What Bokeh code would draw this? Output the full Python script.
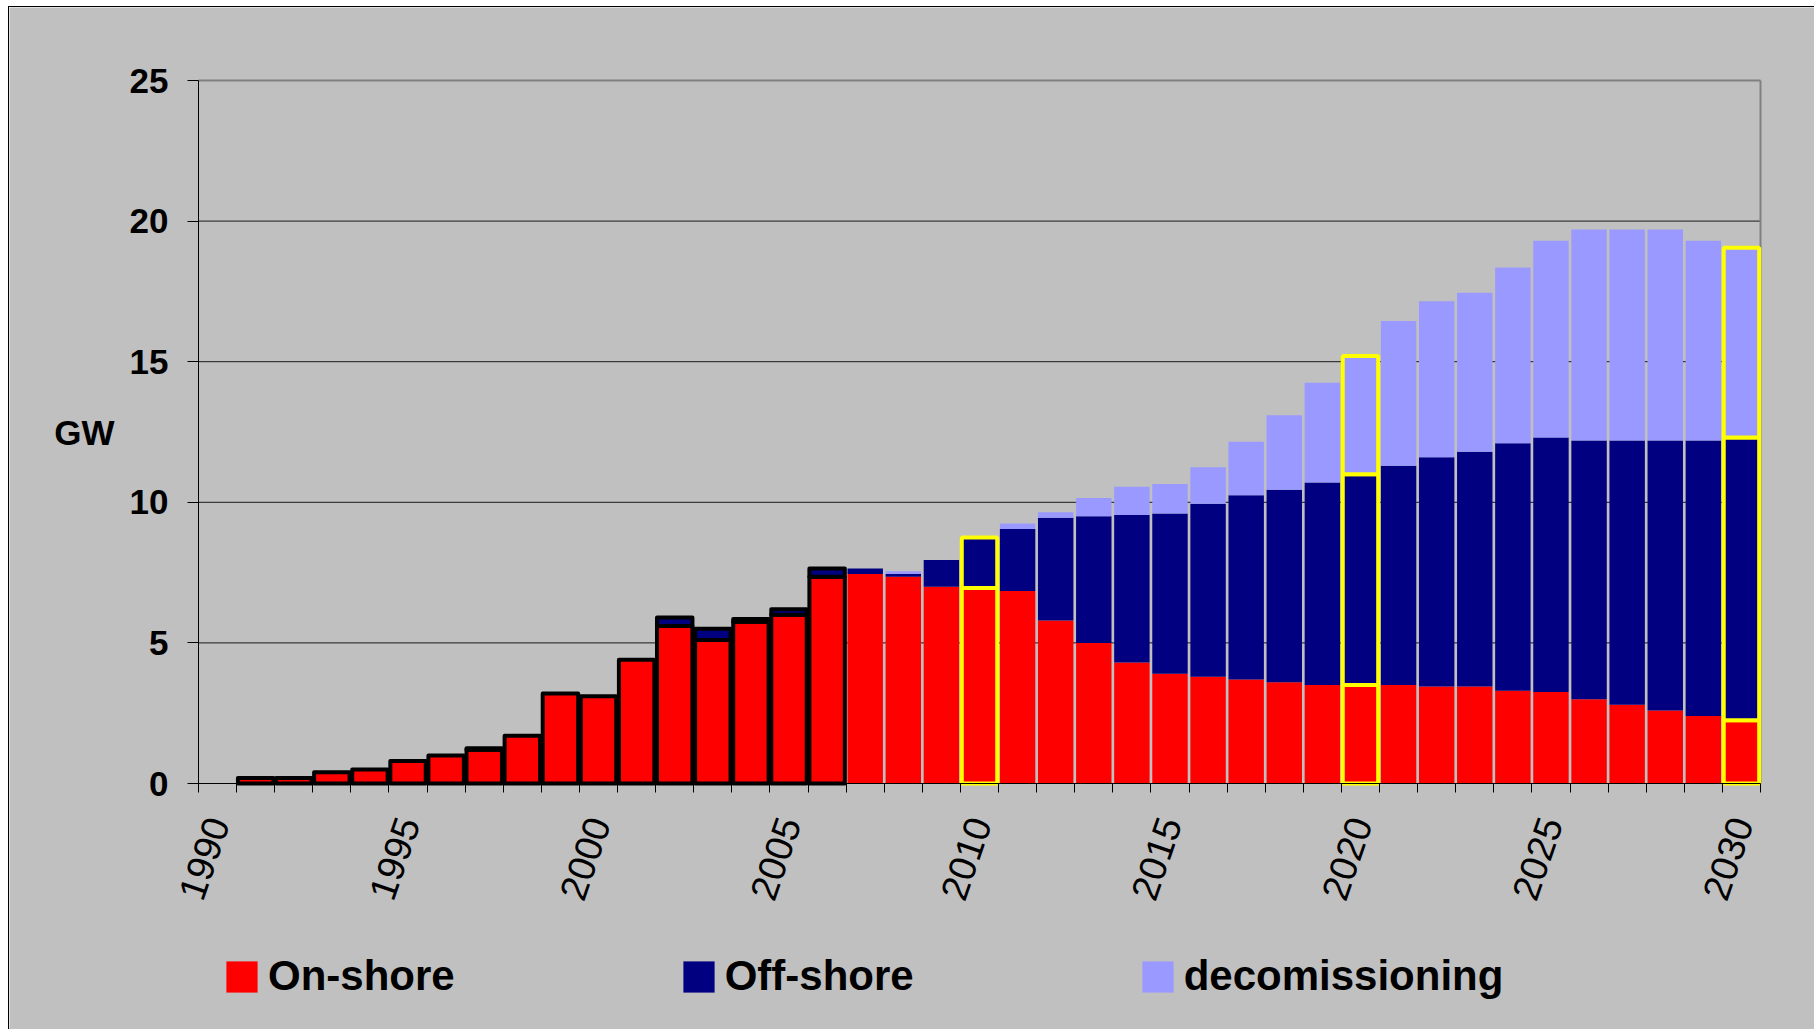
import math
from bokeh.plotting import figure
from bokeh.models import (Range1d, FixedTicker, Legend, LegendItem, ColumnDataSource, Label)
from bokeh.embed import file_html
from bokeh.resources import INLINE

# ---------------- data (GW) ----------------
years = list(range(1990, 2031))
onshore = [0, 0.2, 0.2, 0.4, 0.5, 0.8, 1.0, 1.2, 1.7, 3.2,
           3.1, 4.4, 5.6, 5.1, 5.75, 6.0, 7.35, 7.45, 7.35, 7.0,
           6.95, 6.85, 5.8, 5.0, 4.3, 3.9, 3.8, 3.7, 3.6, 3.5,
           3.5, 3.5, 3.45, 3.45, 3.3, 3.25, 3.0, 2.8, 2.6, 2.4,
           2.25]
offshore = [0, 0, 0, 0, 0, 0, 0, 0.05, 0, 0,
            0, 0, 0.3, 0.4, 0.1, 0.2, 0.3, 0.2, 0.1, 0.95,
            1.8, 2.2, 3.65, 4.5, 5.25, 5.7, 6.15, 6.55, 6.85, 7.2,
            7.5, 7.8, 8.15, 8.35, 8.8, 9.05, 9.2, 9.4, 9.6, 9.8,
            10.05]
decommissioning = [0, 0, 0, 0, 0, 0, 0, 0, 0, 0,
                   0, 0, 0, 0, 0, 0, 0, 0, 0.1, 0,
                   0, 0.2, 0.2, 0.65, 1.0, 1.05, 1.3, 1.9, 2.65, 3.55,
                   4.2, 5.15, 5.55, 5.65, 6.25, 7.0, 7.5, 7.5, 7.5, 7.1,
                   6.75]
series_names = ["On-shore", "Off-shore", "decomissioning"]
historical_years = list(range(1991, 2007))
highlight_years = [2010, 2020, 2030]
x_tick_years = [1990, 1995, 2000, 2005, 2010, 2015, 2020, 2025, 2030]
y_ticks = [0, 5, 10, 15, 20, 25]
y_label = "GW"

# ---------------- layout / style ----------------
FONT = "Liberation Sans"
BG = "#C0C0C0"
COLORS = ["#FF0000", "#000080", "#9999FF"]
BAR_W = 0.93
W, H = 1806, 1023
# pixel box of the value area inside the canvas
PX_LEFT, PX_RIGHT, PX_TOP, PX_BOTTOM = 189, 1751, 73, 776
Y0, Y1 = y_ticks[0], y_ticks[-1]
X0, X1 = years[0] - 0.5, years[-1] + 0.5
sx = (PX_RIGHT - PX_LEFT) / (X1 - X0)        # px per category
sy = (PX_BOTTOM - PX_TOP) / (Y1 - Y0)        # px per GW
x_start, x_end = X0 - PX_LEFT / sx, X1 + (W - PX_RIGHT) / sx
y_start, y_end = Y0 - (H - PX_BOTTOM) / sy, Y1 + PX_TOP / sy

p = figure(width=W, height=H, output_backend="svg", toolbar_location=None,
           x_range=Range1d(x_start, x_end), y_range=Range1d(y_start, y_end),
           min_border_left=0, min_border_right=0, min_border_top=0, min_border_bottom=0,
           background_fill_color=BG, border_fill_color=BG)
p.styles = {"margin-left": "8px", "margin-top": "6px",
            "border-top": "1px solid black", "border-left": "1px solid black"}
p.outline_line_color = None
p.xgrid.visible = False
p.ygrid.visible = False

# horizontal gridlines limited to the value area (drawn beneath the bars)
grid_vals = y_ticks[1:-1]
p.segment(x0=[X0] * len(grid_vals), y0=grid_vals, x1=[X1] * len(grid_vals), y1=grid_vals,
          line_color="#1a1a1a", line_width=1)

# gray plot-area border (top and right)
p.segment(x0=[X0, X1], y0=[Y1, Y0], x1=[X1, X1], y1=[Y1, Y1],
          line_color="#808080", line_width=2)

# stacked bars, split into groups for outline styling
plain_renderers = []
yellow_jobs = []
bottom = [0.0] * len(years)
for name, vals, col in zip(series_names, [onshore, offshore, decommissioning], COLORS):
    groups = {g: {"x": [], "b": [], "t": []} for g in ("plain", "hist", "yel")}
    for i, yr in enumerate(years):
        v = vals[i]
        if v <= 0:
            continue
        g = "hist" if yr in historical_years else ("yel" if yr in highlight_years else "plain")
        groups[g]["x"].append(yr)
        groups[g]["b"].append(bottom[i])
        groups[g]["t"].append(bottom[i] + v)
    r = p.vbar(x="x", bottom="b", top="t", width=BAR_W, source=ColumnDataSource(groups["plain"]),
               fill_color=col, line_color=None)
    plain_renderers.append(r)
    p.vbar(x="x", bottom="b", top="t", width=BAR_W, source=ColumnDataSource(groups["hist"]),
           fill_color=col, line_color="black", line_width=4, line_join="round")
    yellow_jobs.append((groups["yel"], col))
    bottom = [b + v for b, v in zip(bottom, vals)]

for g, col in yellow_jobs:
    p.vbar(x="x", bottom="b", top="t", width=BAR_W, source=ColumnDataSource(g),
           fill_color=col, line_color="#FFFF00", line_width=4)

# x axis at value 0: labels every 5 years, tick marks between categories
p.xaxis.fixed_location = Y0
p.xaxis.bounds = (X0, X1)
p.xaxis.ticker = FixedTicker(ticks=x_tick_years,
                             minor_ticks=[yr - 0.5 for yr in years] + [years[-1] + 0.5])
p.xaxis.major_tick_line_color = None
p.xaxis.major_tick_out = 0
p.xaxis.major_tick_in = 0
p.xaxis.minor_tick_line_color = "black"
p.xaxis.minor_tick_out = 9
p.xaxis.minor_tick_in = 0
p.xaxis.major_label_orientation = math.radians(71)
p.xaxis.major_label_standoff = 26
p.xaxis.major_label_text_font = FONT
p.xaxis.major_label_text_font_style = "normal"
p.xaxis.major_label_text_font_size = "38px"
p.xaxis.major_label_text_color = "black"
p.xaxis.axis_line_color = "black"

# y axis at the left edge of the value area
p.yaxis.fixed_location = X0
p.yaxis.ticker = FixedTicker(ticks=y_ticks)
p.yaxis.bounds = (Y0, Y1)
p.yaxis.major_tick_out = 11
p.yaxis.major_tick_in = 0
p.yaxis.minor_tick_line_color = None
p.yaxis.major_label_standoff = 19
p.yaxis.major_label_text_font = FONT
p.yaxis.major_label_text_font_style = "bold"
p.yaxis.major_label_text_font_size = "35px"
p.yaxis.major_label_text_color = "black"
p.yaxis.axis_line_color = "black"

# horizontal "GW" title
p.add_layout(Label(x=X0 - 114 / sx, y=(Y0 + Y1) / 2, text=y_label,
                   text_font=FONT, text_font_style="bold", text_font_size="35px",
                   text_align="center", text_baseline="middle", text_color="black"))

legend = Legend(items=[LegendItem(label=n, renderers=[r]) for n, r in zip(series_names, plain_renderers)],
                orientation="horizontal", location=(PX_LEFT + 24, 30),
                glyph_width=39, glyph_height=39, label_standoff=7, spacing=224,
                label_text_font=FONT, label_text_font_style="bold", label_text_font_size="42px",
                label_text_color="black",
                background_fill_alpha=0, border_line_color=None, padding=0, margin=0)
p.add_layout(legend)

open("out.html", "w").write(file_html(p, INLINE))
